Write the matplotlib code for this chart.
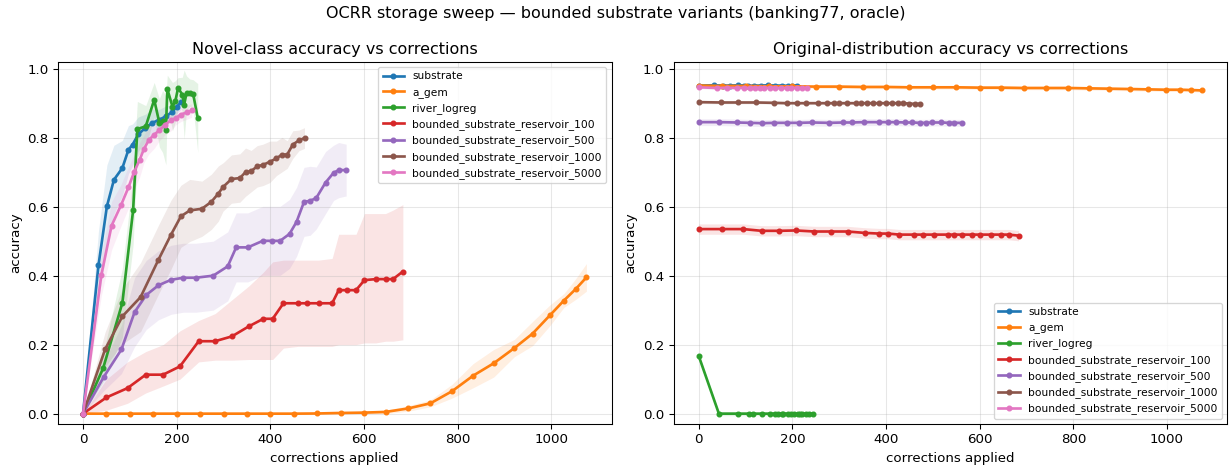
import numpy as np
import matplotlib
matplotlib.use("Agg")
import matplotlib.pyplot as plt

# x positions (corrections applied) per method
substrate_x = [0, 33, 51, 66, 84, 97, 106, 118, 133, 148, 163, 177, 191, 200, 209]
agem_x = [0, 50, 100, 150, 200, 250, 300, 350, 400, 450, 500, 550, 600, 646, 694,
          742, 788, 833, 877, 921, 960, 997, 1027, 1052, 1075]
river_x = [0, 43, 84, 107, 116, 134, 152, 163, 170, 177, 180, 191, 197, 203, 212,
           216, 221, 228, 235, 245]
res100_x = [0, 50, 95, 134, 171, 207, 247, 282, 318, 354, 385, 405, 428, 459, 478,
            503, 532, 546, 563, 583, 601, 625, 646, 662, 683]
res500_x = [0, 44, 82, 110, 135, 161, 188, 214, 241, 278, 309, 327, 352, 384, 404,
            421, 441, 456, 472, 485, 498, 518, 535, 546, 562]
res1000_x = [0, 47, 84, 123, 161, 188, 209, 228, 254, 274, 289, 299, 317, 335, 347,
             359, 372, 384, 399, 413, 425, 436, 448, 461, 473]
res5000_x = [0, 39, 61, 81, 97, 109, 121, 130, 140, 152, 163, 175, 188, 198, 209, 221, 232]

# novel-class accuracy (mean) and band half-widths
substrate_novel = [0, 0.43, 0.601, 0.678, 0.712, 0.765, 0.78, 0.81, 0.828, 0.843, 0.852,
                   0.862, 0.875, 0.89, 0.902]
substrate_novel_sd = [0, 0.10, 0.12, 0.10, 0.08, 0.07, 0.06, 0.05, 0.04, 0.04, 0.03,
                      0.03, 0.02, 0.02, 0.02]
agem_novel = [0, 0, 0, 0, 0, 0, 0, 0, 0, 0, 0.0005, 0.002, 0.003, 0.005, 0.015,
              0.03, 0.065, 0.11, 0.146, 0.19, 0.232, 0.285, 0.328, 0.361, 0.395]
agem_novel_sd = [0, 0.001, 0.001, 0.001, 0.001, 0.001, 0.001, 0.001, 0.001, 0.001, 0.002,
                 0.003, 0.004, 0.005, 0.008, 0.01, 0.02, 0.035, 0.04, 0.025, 0.035,
                 0.03, 0.02, 0.03, 0.04]
river_novel = [0, 0.132, 0.321, 0.59, 0.825, 0.833, 0.91, 0.843, 0.847, 0.821, 0.941,
               0.89, 0.905, 0.944, 0.925, 0.896, 0.929, 0.93, 0.928, 0.857]
river_novel_sd = [0, 0.04, 0.10, 0.10, 0.08, 0.06, 0.05, 0.07, 0.09, 0.10, 0.04, 0.07,
                  0.06, 0.03, 0.05, 0.10, 0.05, 0.04, 0.04, 0.10]
res100_novel = [0, 0.047, 0.074, 0.113, 0.113, 0.137, 0.21, 0.21, 0.224, 0.253, 0.275,
                0.275, 0.32, 0.32, 0.32, 0.32, 0.32, 0.358, 0.358, 0.358, 0.387, 0.39,
                0.39, 0.39, 0.412]
res100_lo = [0, 0.01, 0.03, 0.06, 0.08, 0.10, 0.15, 0.155, 0.155, 0.157, 0.157, 0.157,
             0.19, 0.195, 0.195, 0.195, 0.195, 0.2, 0.2, 0.2, 0.205, 0.205, 0.21, 0.21, 0.214]
res100_hi = [0, 0.10, 0.15, 0.18, 0.20, 0.24, 0.27, 0.29, 0.33, 0.37, 0.41, 0.44, 0.445,
             0.445, 0.445, 0.445, 0.45, 0.52, 0.52, 0.52, 0.58, 0.58, 0.58, 0.59, 0.606]
res500_novel = [0, 0.106, 0.186, 0.294, 0.344, 0.372, 0.388, 0.394, 0.394, 0.4, 0.427,
                0.482, 0.482, 0.501, 0.501, 0.501, 0.521, 0.556, 0.614, 0.617, 0.625,
                0.67, 0.698, 0.706, 0.706]
res500_novel_sd = [0, 0.04, 0.07, 0.10, 0.10, 0.10, 0.10, 0.10, 0.10, 0.10, 0.10, 0.10,
                   0.10, 0.10, 0.10, 0.10, 0.10, 0.10, 0.10, 0.10, 0.09, 0.09, 0.08,
                   0.08, 0.075]
res1000_novel = [0, 0.186, 0.282, 0.338, 0.446, 0.519, 0.572, 0.589, 0.594, 0.614, 0.638,
                 0.657, 0.68, 0.683, 0.7, 0.703, 0.717, 0.721, 0.73, 0.74, 0.751, 0.751,
                 0.78, 0.792, 0.799]
res1000_novel_sd = [0, 0.05, 0.08, 0.10, 0.10, 0.10, 0.09, 0.09, 0.08, 0.08, 0.08, 0.07,
                    0.07, 0.07, 0.07, 0.06, 0.06, 0.06, 0.06, 0.05, 0.05, 0.04, 0.04,
                    0.03, 0.03]
res5000_novel = [0, 0.401, 0.545, 0.604, 0.656, 0.70, 0.736, 0.767, 0.792, 0.809, 0.821,
                 0.838, 0.85, 0.857, 0.867, 0.873, 0.879]
res5000_novel_sd = [0, 0.06, 0.07, 0.06, 0.06, 0.05, 0.05, 0.04, 0.04, 0.04, 0.03, 0.03,
                    0.03, 0.02, 0.02, 0.02, 0.02]

# original-distribution accuracy
substrate_orig = [0.951, 0.952, 0.951, 0.951, 0.952, 0.951, 0.95, 0.951, 0.951, 0.952,
                  0.951, 0.951, 0.95, 0.951, 0.951]
agem_orig = [0.951, 0.95, 0.95, 0.949, 0.949, 0.948, 0.948, 0.947, 0.947, 0.946, 0.946,
             0.946, 0.945, 0.945, 0.944, 0.944, 0.944, 0.943, 0.942, 0.941, 0.94, 0.939,
             0.939, 0.938, 0.937]
river_orig = [0.167, 0, 0, 0, 0, 0, 0, 0, 0, 0, 0, 0, 0, 0, 0, 0, 0, 0, 0, 0]
res100_orig = [0.535, 0.535, 0.535, 0.530, 0.530, 0.531, 0.528, 0.528, 0.528, 0.524,
               0.522, 0.522, 0.519, 0.519, 0.519, 0.519, 0.519, 0.519, 0.519, 0.519,
               0.519, 0.519, 0.519, 0.519, 0.516]
res500_orig = [0.845, 0.845, 0.844, 0.843, 0.842, 0.843, 0.843, 0.843, 0.844, 0.843,
               0.844, 0.844, 0.845, 0.845, 0.845, 0.845, 0.844, 0.844, 0.843, 0.843,
               0.844, 0.844, 0.843, 0.843, 0.843]
res1000_orig = [0.903, 0.902, 0.902, 0.902, 0.901, 0.9, 0.9, 0.9, 0.9, 0.9, 0.9, 0.9,
                0.9, 0.9, 0.9, 0.9, 0.9, 0.9, 0.9, 0.9, 0.9, 0.9, 0.899, 0.898, 0.898]
res5000_orig = [0.946, 0.944, 0.945, 0.944, 0.945, 0.944, 0.945, 0.944, 0.944, 0.945,
                0.944, 0.944, 0.944, 0.945, 0.944, 0.944, 0.944]
orig_sd = {"substrate": 0.004, "a_gem": 0.005, "river_logreg": 0.006,
           "bounded_substrate_reservoir_100": 0.015, "bounded_substrate_reservoir_500": 0.01,
           "bounded_substrate_reservoir_1000": 0.004, "bounded_substrate_reservoir_5000": 0.004}

names = ["substrate", "a_gem", "river_logreg", "bounded_substrate_reservoir_100",
         "bounded_substrate_reservoir_500", "bounded_substrate_reservoir_1000",
         "bounded_substrate_reservoir_5000"]
xs = [substrate_x, agem_x, river_x, res100_x, res500_x, res1000_x, res5000_x]
novel = [substrate_novel, agem_novel, river_novel, res100_novel, res500_novel,
         res1000_novel, res5000_novel]
novel_sd = [substrate_novel_sd, agem_novel_sd, river_novel_sd, None, res500_novel_sd,
            res1000_novel_sd, res5000_novel_sd]
orig = [substrate_orig, agem_orig, river_orig, res100_orig, res500_orig, res1000_orig,
        res5000_orig]

fig, (ax1, ax2) = plt.subplots(1, 2, figsize=(1231 / 96, 468 / 96), dpi=96)

for i, name in enumerate(names):
    c = "C%d" % i
    x = np.array(xs[i])
    y = np.array(novel[i])
    if novel_sd[i] is None:
        lo, hi = np.array(res100_lo), np.array(res100_hi)
    else:
        sd = np.array(novel_sd[i])
        lo, hi = y - sd, y + sd
    ax1.fill_between(x, lo, hi, color=c, alpha=0.12, linewidth=0)
    ax1.plot(x, y, "-o", color=c, lw=2, ms=3.5, label=name)

    yo = np.array(orig[i])
    ax2.fill_between(x, yo - orig_sd[name], yo + orig_sd[name], color=c, alpha=0.12,
                     linewidth=0)
    ax2.plot(x, yo, "-o", color=c, lw=2, ms=3.5, label=name)

ax1.set_title("Novel-class accuracy vs corrections")
ax2.set_title("Original-distribution accuracy vs corrections")
for ax in (ax1, ax2):
    ax.set_xlabel("corrections applied")
    ax.set_ylabel("accuracy")
    ax.set_ylim(-0.03, 1.02)
    ax.grid(True, alpha=0.3)
ax1.legend(loc="upper right", fontsize=8)
ax2.legend(loc="lower right", fontsize=8)

fig.suptitle("OCRR storage sweep \u2014 bounded substrate variants (banking77, oracle)",
             y=0.987)
plt.subplots_adjust(left=0.047, right=0.997, top=0.868, bottom=0.094, wspace=0.112)
plt.savefig("out.png", dpi=96)
